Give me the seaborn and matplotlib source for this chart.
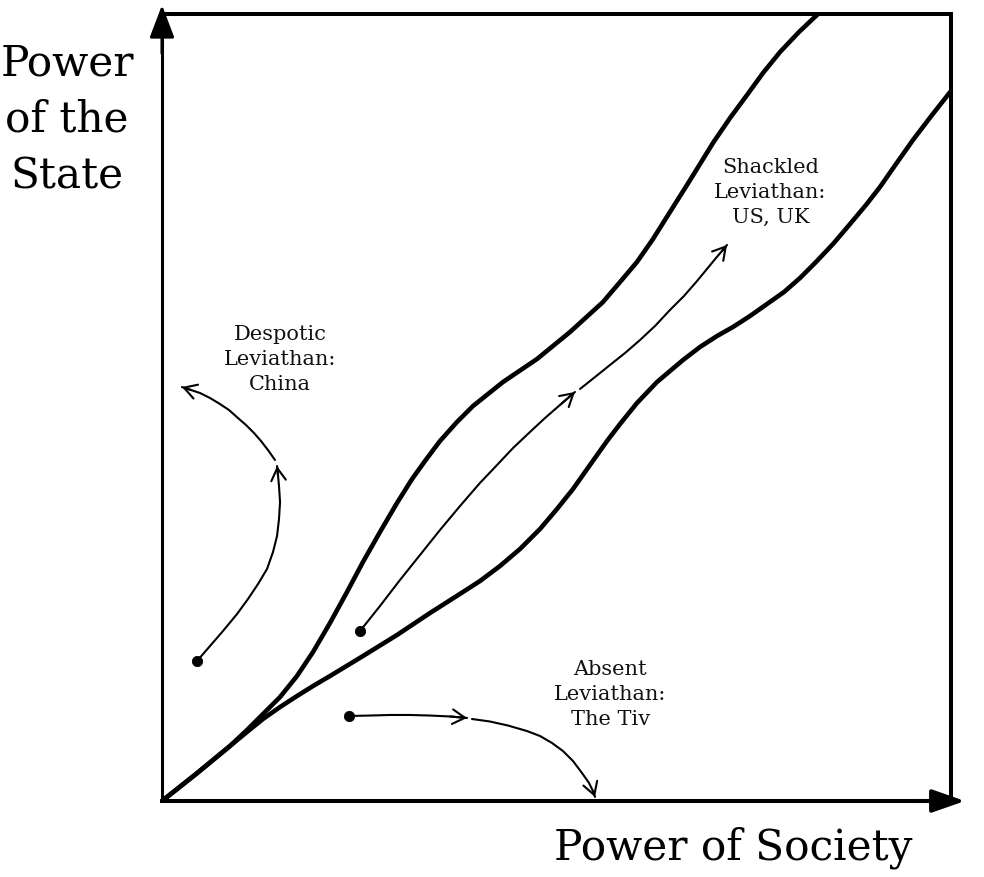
import numpy as np
import matplotlib
matplotlib.use("Agg")
import matplotlib.pyplot as plt
import seaborn as sns

# corridor boundaries (power of society, power of state), 0-100 scale
upper_x = [0, 4.31, 8.62, 10.77, 12.80, 14.96, 17.11, 19.14, 21.29, 23.45, 25.47,
           27.63, 29.78, 31.69, 33.33, 35.23, 37.39, 39.42, 43.22, 47.53, 51.71,
           55.89, 58.05, 60.20, 62.23, 64.38, 66.54, 68.19, 69.83, 71.99, 74.14,
           76.17, 78.33, 80.73, 83.14]
upper_y = [0, 3.43, 6.99, 9.02, 11.05, 13.21, 15.88, 18.93, 22.62, 26.56, 30.37,
           34.18, 37.86, 40.91, 43.20, 45.74, 48.16, 50.19, 53.24, 56.16, 59.59,
           63.40, 65.94, 68.49, 71.41, 74.84, 78.27, 80.94, 83.61, 86.78, 89.70,
           92.50, 95.17, 97.71, 100.0]

lower_x = [0, 4.31, 8.62, 10.77, 12.80, 14.96, 17.11, 19.14, 21.29, 25.47, 29.78,
           33.97, 38.15, 40.30, 42.84, 45.37, 47.91, 50.06, 52.09, 54.24, 56.40,
           58.05, 60.20, 62.74, 66.03, 68.19, 70.34, 72.37, 74.52, 76.68, 78.83,
           80.86, 82.89, 85.04, 87.20, 89.22, 91.00, 93.03, 95.18, 97.59, 100.0]
lower_y = [0, 3.43, 6.99, 8.77, 10.42, 11.94, 13.34, 14.61, 15.88, 18.42, 21.09,
           23.89, 26.56, 27.95, 29.86, 32.02, 34.56, 37.10, 39.64, 42.69, 45.74,
           47.90, 50.57, 53.24, 56.03, 57.69, 59.08, 60.23, 61.62, 63.15, 64.67,
           66.45, 68.49, 70.77, 73.31, 75.73, 78.02, 80.94, 83.99, 87.16, 90.22]

# paths of the three leviathans, each drawn in two legs
despotic1_x = [4.44, 6.08, 7.73, 9.51, 10.90, 12.17, 13.31, 14.07, 14.58, 14.83,
               14.96, 14.83, 14.70, 14.58]
despotic1_y = [17.79, 19.69, 21.60, 23.76, 25.67, 27.57, 29.48, 31.64, 33.67, 35.83,
               37.99, 40.02, 41.42, 42.57]
despotic2_x = [14.32, 13.43, 12.55, 11.66, 10.65, 9.63, 8.49, 7.35, 6.08, 4.82, 3.68, 2.53]
despotic2_y = [43.33, 44.60, 45.74, 46.76, 47.77, 48.66, 49.68, 50.44, 51.21, 51.84,
               52.22, 52.60]

shackled1_x = [25.10, 27.63, 30.16, 32.70, 35.23, 37.77, 40.30, 42.46, 44.49, 46.64,
               48.54, 50.44, 52.34]
shackled1_y = [21.60, 24.78, 28.08, 31.26, 34.43, 37.48, 40.41, 42.69, 44.85, 46.89,
               48.66, 50.32, 51.97]
shackled2_x = [52.98, 54.88, 56.78, 58.68, 60.58, 62.48, 64.38, 66.16, 67.81, 69.07,
               70.21, 70.97, 71.61]
shackled2_y = [52.35, 53.87, 55.40, 56.92, 58.57, 60.35, 62.39, 64.17, 66.07, 67.60,
               68.99, 69.88, 70.65]

absent1_x = [23.70, 26.36, 28.90, 31.43, 33.97, 36.50, 38.66]
absent1_y = [10.80, 10.86, 10.93, 10.93, 10.86, 10.74, 10.55]
absent2_x = [39.29, 41.57, 43.85, 46.26, 47.91, 49.43, 50.82, 52.09, 53.23, 54.12,
             54.62, 54.88]
absent2_y = [10.42, 10.10, 9.59, 8.89, 8.26, 7.37, 6.35, 5.08, 3.56, 2.29, 1.27, 0.51]

legs = [(despotic1_x, despotic1_y), (despotic2_x, despotic2_y),
        (shackled1_x, shackled1_y), (shackled2_x, shackled2_y),
        (absent1_x, absent1_y), (absent2_x, absent2_y)]

labels = ["Despotic\nLeviathan:\nChina", "Shackled\nLeviathan:\nUS, UK",
          "Absent\nLeviathan:\nThe Tiv"]
label_x = [14.96, 77.1, 56.8]
label_y = [56.2, 77.4, 13.6]

sns.set_theme(style="white")
plt.rcParams['font.family'] = ['DejaVu Serif']

fig = plt.figure(figsize=(9.84, 8.78), dpi=100)
ax = fig.add_axes([162 / 984, 76 / 878, 789 / 984, 787 / 878])
ax.set_xlim(0, 100)
ax.set_ylim(0, 100)
ax.set_xticks([])
ax.set_yticks([])

for s in ax.spines.values():
    s.set_color("black")
    s.set_linewidth(2.9)
ax.spines["left"].set_linewidth(2.2)

for xs, ys in [(upper_x, upper_y), (lower_x, lower_y)]:
    sns.lineplot(x=xs, y=ys, sort=False, estimator=None, color="black",
                 lw=3.3, ax=ax, solid_capstyle="round", solid_joinstyle="round")

for xs, ys in legs:
    sns.lineplot(x=xs, y=ys, sort=False, estimator=None, color="black",
                 lw=1.5, ax=ax, solid_joinstyle="round")
    # open arrowhead on the last step of each leg
    ax.annotate("", xy=(xs[-1], ys[-1]), xytext=(xs[-2], ys[-2]),
                arrowprops=dict(arrowstyle="->,head_length=0.6,head_width=0.35",
                                lw=1.5, color="black", shrinkA=0, shrinkB=0,
                                mutation_scale=15))

dot_x = [despotic1_x[0], shackled1_x[0], absent1_x[0]]
dot_y = [despotic1_y[0], shackled1_y[0], absent1_y[0]]
sns.scatterplot(x=dot_x, y=dot_y, s=55, color="black", edgecolor="black", ax=ax,
                zorder=5)

for t, x, y in zip(labels, label_x, label_y):
    ax.text(x, y, t, ha="center", va="center", fontsize=15, linespacing=1.4,
            color="#111111")

# axis arrows
ax.annotate("", xy=(0, 1.0114), xytext=(0, 0.95), xycoords="axes fraction",
            arrowprops=dict(arrowstyle="-|>,head_length=1.0,head_width=0.38",
                            lw=2.2, color="black", shrinkA=0, shrinkB=0,
                            mutation_scale=20), annotation_clip=False)
ax.annotate("", xy=(1.0177, 0), xytext=(0.95, 0), xycoords="axes fraction",
            arrowprops=dict(arrowstyle="-|>,head_length=1.0,head_width=0.35",
                            lw=2.9, color="black", shrinkA=0, shrinkB=0,
                            mutation_scale=20), annotation_clip=False)

fig.text(67 / 984, 1 - 120 / 878, "Power\nof the\nState", ha="center", va="center",
         fontsize=30.4, linespacing=1.45, color="black")
fig.text(733 / 984, 1 - 848 / 878, "Power of Society", ha="center", va="center",
         fontsize=30.4, color="black")

fig.savefig("out.png", dpi=100, facecolor="white")
